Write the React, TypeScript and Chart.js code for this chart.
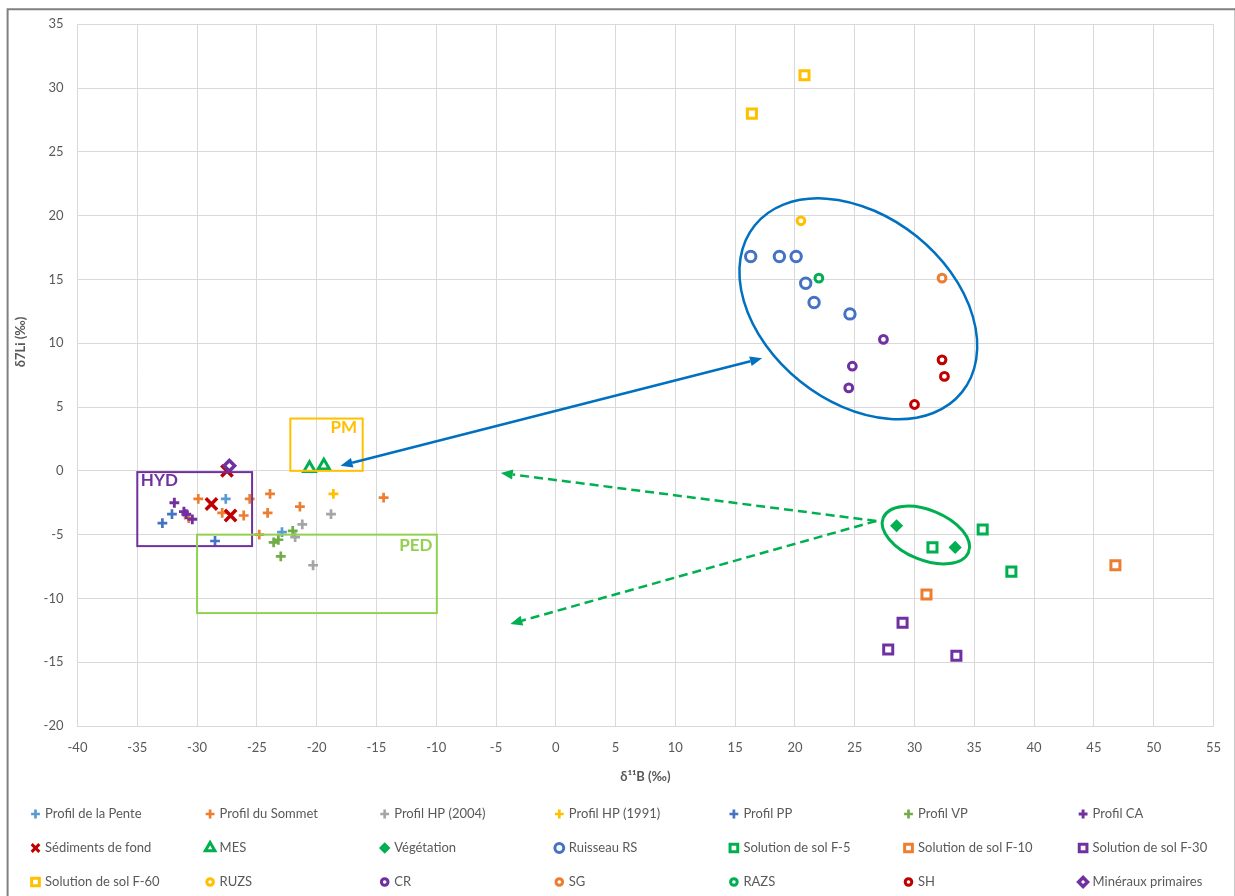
import React, { useEffect, useRef } from 'react';
import { Chart, registerables } from 'chart.js';

Chart.register(...registerables);

// ---------- data (δ11B ‰, δ7Li ‰) ----------
const profilPente = [[-27.6, -2.2], [-22.9, -4.8]];
const profilSommet = [[-29.9, -2.2], [-25.6, -2.2], [-23.9, -1.8], [-30.7, -3.7], [-27.9, -3.3], [-26.1, -3.5], [-24.1, -3.3], [-21.4, -2.8], [-14.4, -2.1], [-24.8, -5.0]];
const profilHP2004 = [[-21.2, -4.2], [-18.8, -3.4], [-21.8, -5.2], [-20.3, -7.4]];
const profilHP1991 = [[-18.6, -1.8]];
const profilPP = [[-32.9, -4.1], [-32.1, -3.4], [-28.5, -5.5]];
const profilVP = [[-22.0, -4.7], [-23.2, -5.4], [-23.6, -5.6], [-23.0, -6.7]];
const profilCA = [[-31.9, -2.5], [-31.1, -3.2], [-30.9, -3.4], [-30.4, -3.8]];
const sediments = [[-27.5, 0.0], [-28.8, -2.6], [-27.2, -3.5]];
const mes = [[-20.6, 0.2], [-19.4, 0.4]];
const vegetation = [[28.5, -4.3], [33.4, -6.0]];
const ruisseauRS = [[16.3, 16.8], [18.7, 16.8], [20.1, 16.8], [20.9, 14.7], [21.6, 13.2], [24.6, 12.3]];
const solF5 = [[31.5, -6.0], [35.7, -4.6], [38.1, -7.9]];
const solF10 = [[31.0, -9.7], [46.8, -7.4]];
const solF30 = [[29.0, -11.9], [27.8, -14.0], [33.5, -14.5]];
const solF60 = [[20.8, 31.0], [16.4, 28.0]];
const ruzs = [[20.5, 19.6]];
const cr = [[27.4, 10.3], [24.8, 8.2], [24.5, 6.5]];
const sg = [[32.3, 15.1]];
const razs = [[22.0, 15.1]];
const sh = [[32.3, 8.7], [32.5, 7.4], [30.0, 5.2]];
const mineraux = [[-27.3, 0.4]];

const xTitle = 'δ¹¹B (‰)';
const yTitle = 'δ7Li (‰)';

// ---------- annotations (data coordinates) ----------
const boxes = [
  { label: 'HYD', color: '#7030A0', x0: -35.0, x1: -25.4, y0: -0.1, y1: -5.9, tx: -34.7, ty: -0.75 },
  { label: 'PM', color: '#FFC000', x0: -22.2, x1: -16.15, y0: 4.1, y1: 0.0, tx: -18.85, ty: 3.4 },
  { label: 'PED', color: '#92D050', x0: -30.0, x1: -9.95, y0: -5.0, y1: -11.15, tx: -13.1, ty: -5.85 },
];
const ellipses = [
  { color: '#0070C0', cx: 25.3, cy: 12.7, a: 133, b: 93, angle: 38.8, lw: 2.5 },
  { color: '#00B050', cx: 30.95, cy: -5.03, a: 46, b: 25, angle: 22, lw: 3 },
];
const arrows = [
  { color: '#0070C0', from: [17.25, 8.82], to: [-18.0, 0.4], both: true, dash: [] as number[] },
  { color: '#00B050', from: [26.8, -3.93], to: [-4.6, -0.17], both: false, dash: [9, 5] },
  { color: '#00B050', from: [26.8, -3.93], to: [-3.8, -12.0], both: false, dash: [9, 5] },
];

type S = { label: string; data: number[][]; color: string; style: string; r: number; bw: number; fill: string };
const C = { lb: '#5B9BD5', or: '#ED7D31', gr: '#A5A5A5', yl: '#FFC000', bl: '#4472C4', lg: '#70AD47', pu: '#7030A0', rd: '#C00000', gn: '#00B050' };
const series: S[] = [
  { label: 'Profil de la Pente', data: profilPente, color: C.lb, style: 'cross', r: 4.9, bw: 2.7, fill: C.lb },
  { label: 'Profil du Sommet', data: profilSommet, color: C.or, style: 'cross', r: 4.9, bw: 2.7, fill: C.or },
  { label: 'Profil HP (2004)', data: profilHP2004, color: C.gr, style: 'cross', r: 4.9, bw: 2.7, fill: C.gr },
  { label: 'Profil HP (1991)', data: profilHP1991, color: C.yl, style: 'cross', r: 4.9, bw: 2.7, fill: C.yl },
  { label: 'Profil PP', data: profilPP, color: C.bl, style: 'cross', r: 4.9, bw: 2.7, fill: C.bl },
  { label: 'Profil VP', data: profilVP, color: C.lg, style: 'cross', r: 4.9, bw: 2.7, fill: C.lg },
  { label: 'Profil CA', data: profilCA, color: C.pu, style: 'cross', r: 4.9, bw: 2.9, fill: C.pu },
  { label: 'Sédiments de fond', data: sediments, color: C.rd, style: 'crossRot', r: 8, bw: 3.5, fill: C.rd },
  { label: 'MES', data: mes, color: C.gn, style: 'triangle', r: 6.5, bw: 3, fill: '#ffffff' },
  { label: 'Végétation', data: vegetation, color: C.gn, style: 'rectRot', r: 5.5, bw: 1.5, fill: C.gn },
  { label: 'Ruisseau RS', data: ruisseauRS, color: C.bl, style: 'circle', r: 5.2, bw: 3, fill: '#ffffff' },
  { label: 'Solution de sol F-5', data: solF5, color: C.gn, style: 'rect', r: 6.4, bw: 3, fill: '#ffffff' },
  { label: 'Solution de sol F-10', data: solF10, color: C.or, style: 'rect', r: 6.4, bw: 3, fill: '#ffffff' },
  { label: 'Solution de sol F-30', data: solF30, color: C.pu, style: 'rect', r: 6.4, bw: 3, fill: '#ffffff' },
  { label: 'Solution de sol F-60', data: solF60, color: C.yl, style: 'rect', r: 6.4, bw: 3, fill: '#ffffff' },
  { label: 'RUZS', data: ruzs, color: C.yl, style: 'circle', r: 3.9, bw: 3, fill: '#ffffff' },
  { label: 'CR', data: cr, color: C.pu, style: 'circle', r: 3.9, bw: 3, fill: '#ffffff' },
  { label: 'SG', data: sg, color: C.or, style: 'circle', r: 3.9, bw: 3, fill: '#ffffff' },
  { label: 'RAZS', data: razs, color: C.gn, style: 'circle', r: 3.9, bw: 3, fill: '#ffffff' },
  { label: 'SH', data: sh, color: C.rd, style: 'circle', r: 3.9, bw: 3, fill: '#ffffff' },
  { label: 'Minéraux primaires', data: mineraux, color: C.pu, style: 'rectRot', r: 5.3, bw: 3.4, fill: '#ffffff' },
];

const FONT = 'Lato, "Open Sans", sans-serif';
const TEXT = '#595959';

function drawMarker(ctx: CanvasRenderingContext2D, s: S, x: number, y: number, k: number) {
  const r = s.r * k;
  ctx.save();
  ctx.lineWidth = s.bw * (k < 0.8 ? 0.85 : 1);
  ctx.strokeStyle = s.color;
  ctx.fillStyle = s.fill;
  ctx.beginPath();
  if (s.style === 'cross') {
    ctx.moveTo(x, y - r); ctx.lineTo(x, y + r); ctx.moveTo(x - r, y); ctx.lineTo(x + r, y);
    ctx.stroke();
  } else if (s.style === 'crossRot') {
    const d = r * Math.SQRT1_2;
    ctx.moveTo(x - d, y - d); ctx.lineTo(x + d, y + d); ctx.moveTo(x + d, y - d); ctx.lineTo(x - d, y + d);
    ctx.stroke();
  } else if (s.style === 'triangle') {
    let a = 0;
    ctx.moveTo(x + Math.sin(a) * r, y - Math.cos(a) * r);
    a += (2 * Math.PI) / 3; ctx.lineTo(x + Math.sin(a) * r, y - Math.cos(a) * r);
    a += (2 * Math.PI) / 3; ctx.lineTo(x + Math.sin(a) * r, y - Math.cos(a) * r);
    ctx.closePath(); ctx.fill(); ctx.stroke();
  } else if (s.style === 'rectRot') {
    ctx.moveTo(x - r, y); ctx.lineTo(x, y - r); ctx.lineTo(x + r, y); ctx.lineTo(x, y + r);
    ctx.closePath(); ctx.fill(); ctx.stroke();
  } else if (s.style === 'rect') {
    const h = r * Math.SQRT1_2;
    ctx.rect(x - h, y - h, 2 * h, 2 * h); ctx.fill(); ctx.stroke();
  } else {
    ctx.arc(x, y, r, 0, Math.PI * 2); ctx.fill(); ctx.stroke();
  }
  ctx.restore();
}

function head(ctx: CanvasRenderingContext2D, fx: number, fy: number, tx: number, ty: number, len: number, half: number) {
  const ang = Math.atan2(ty - fy, tx - fx);
  const bx = tx - len * Math.cos(ang);
  const by = ty - len * Math.sin(ang);
  ctx.beginPath();
  ctx.moveTo(tx, ty);
  ctx.lineTo(bx + half * Math.sin(ang), by - half * Math.cos(ang));
  ctx.lineTo(bx - half * Math.sin(ang), by + half * Math.cos(ang));
  ctx.closePath();
  ctx.fill();
  return [bx, by];
}

const decorPlugin = {
  id: 'decor',
  beforeDraw(chart: any) {
    const ctx: CanvasRenderingContext2D = chart.ctx;
    ctx.save();
    ctx.fillStyle = '#ffffff';
    ctx.fillRect(0, 0, chart.width, chart.height);
    ctx.strokeStyle = '#c8c8c8';
    ctx.lineWidth = 1;
    ctx.beginPath(); ctx.moveTo(1234.5, 8); ctx.lineTo(1234.5, chart.height); ctx.stroke();
    ctx.strokeStyle = '#808080';
    ctx.lineWidth = 2;
    ctx.beginPath();
    ctx.moveTo(7.6, chart.height); ctx.lineTo(7.6, 9.2); ctx.lineTo(1235, 9.2);
    ctx.stroke();
    ctx.restore();
  },
  afterDatasetsDraw(chart: any) {
    const ctx: CanvasRenderingContext2D = chart.ctx;
    const X = (v: number) => chart.scales.x.getPixelForValue(v);
    const Y = (v: number) => chart.scales.y.getPixelForValue(v);
    ctx.save();
    boxes.forEach((b) => {
      ctx.strokeStyle = b.color;
      ctx.lineWidth = 2;
      ctx.strokeRect(X(b.x0), Y(b.y0), X(b.x1) - X(b.x0), Y(b.y1) - Y(b.y0));
      ctx.fillStyle = b.color;
      ctx.font = `bold 17px ${FONT}`;
      ctx.textAlign = 'left';
      ctx.textBaseline = 'middle';
      ctx.fillText(b.label, X(b.tx), Y(b.ty));
    });
    ellipses.forEach((e) => {
      ctx.strokeStyle = e.color;
      ctx.lineWidth = e.lw;
      ctx.beginPath();
      ctx.ellipse(X(e.cx), Y(e.cy), e.a, e.b, (e.angle * Math.PI) / 180, 0, Math.PI * 2);
      ctx.stroke();
    });
    arrows.forEach((a) => {
      let fx = X(a.from[0]), fy = Y(a.from[1]);
      const tx = X(a.to[0]), ty = Y(a.to[1]);
      ctx.fillStyle = a.color;
      ctx.strokeStyle = a.color;
      ctx.lineWidth = 2.5;
      const [ex, ey] = head(ctx, fx, fy, tx, ty, 12, 5);
      if (a.both) {
        const [sx, sy] = head(ctx, tx, ty, fx, fy, 12, 5);
        fx = sx; fy = sy;
      }
      ctx.setLineDash(a.dash);
      ctx.beginPath();
      ctx.moveTo(fx, fy);
      ctx.lineTo(ex, ey);
      ctx.stroke();
      ctx.setLineDash([]);
    });
    ctx.restore();
  },
  afterDraw(chart: any) {
    const ctx: CanvasRenderingContext2D = chart.ctx;
    ctx.save();
    ctx.fillStyle = TEXT;
    ctx.font = `bold 13px ${FONT}`;
    ctx.textAlign = 'center';
    ctx.textBaseline = 'middle';
    ctx.translate(21, 342);
    ctx.rotate(-Math.PI / 2);
    ctx.fillText(yTitle, 0, 0);
    ctx.restore();
    ctx.save();
    ctx.font = `13px ${FONT}`;
    ctx.textAlign = 'left';
    ctx.textBaseline = 'middle';
    series.forEach((s, i) => {
      const col = i % 7;
      const row = Math.floor(i / 7);
      const mx = 35.5 + 174.6 * col;
      const my = 814 + 34 * row;
      const k = s.style === 'crossRot' ? 0.68 : s.style === 'cross' ? 0.9 : 0.85;
      drawMarker(ctx, s, mx, my, k);
      ctx.fillStyle = TEXT;
      ctx.fillText(s.label, mx + 9.5, my);
    });
    ctx.restore();
  },
};

export default function App() {
  const ref = useRef<HTMLCanvasElement>(null);
  useEffect(() => {
    document.body.style.margin = '0';
    document.body.style.overflow = 'hidden';
    Chart.defaults.font.family = FONT;
    const n = series.length;
    const chart = new Chart(ref.current as HTMLCanvasElement, {
      type: 'scatter',
      data: {
        datasets: series.map((s, i) => ({
          label: s.label,
          data: s.data.map(([x, y]) => ({ x, y })),
          pointStyle: s.style as any,
          pointRadius: s.r,
          pointHoverRadius: s.r,
          pointBorderWidth: s.bw,
          borderColor: s.color,
          backgroundColor: s.fill,
          order: n - i,
        })),
      },
      options: {
        animation: false,
        responsive: false,
        devicePixelRatio: 1,
        events: [],
        layout: { padding: { left: 0, top: 24.3, right: 19.5, bottom: 111.5 } },
        plugins: { legend: { display: false }, tooltip: { enabled: false } },
        scales: {
          x: {
            type: 'linear',
            min: -40,
            max: 55,
            ticks: { stepSize: 5, color: TEXT, font: { size: 13 }, padding: 14 },
            grid: { color: '#d9d9d9', drawTicks: false },
            border: { color: '#d9d9d9' },
            title: { display: true, text: xTitle, color: TEXT, font: { size: 13, weight: 'bold' }, padding: 0 },
            afterFit: (s: any) => { s.height = 58.5; },
          },
          y: {
            type: 'linear',
            min: -20,
            max: 35,
            ticks: { stepSize: 5, color: TEXT, font: { size: 13 }, padding: 14 },
            grid: { color: '#d9d9d9', drawTicks: false },
            border: { color: '#d9d9d9' },
            afterFit: (s: any) => { s.width = 77.5; },
          },
        },
      } as any,
      plugins: [decorPlugin],
    });
    return () => chart.destroy();
  }, []);
  return <canvas ref={ref} width={1235} height={896} style={{ display: 'block', width: 1235, height: 896 }} />;
}
